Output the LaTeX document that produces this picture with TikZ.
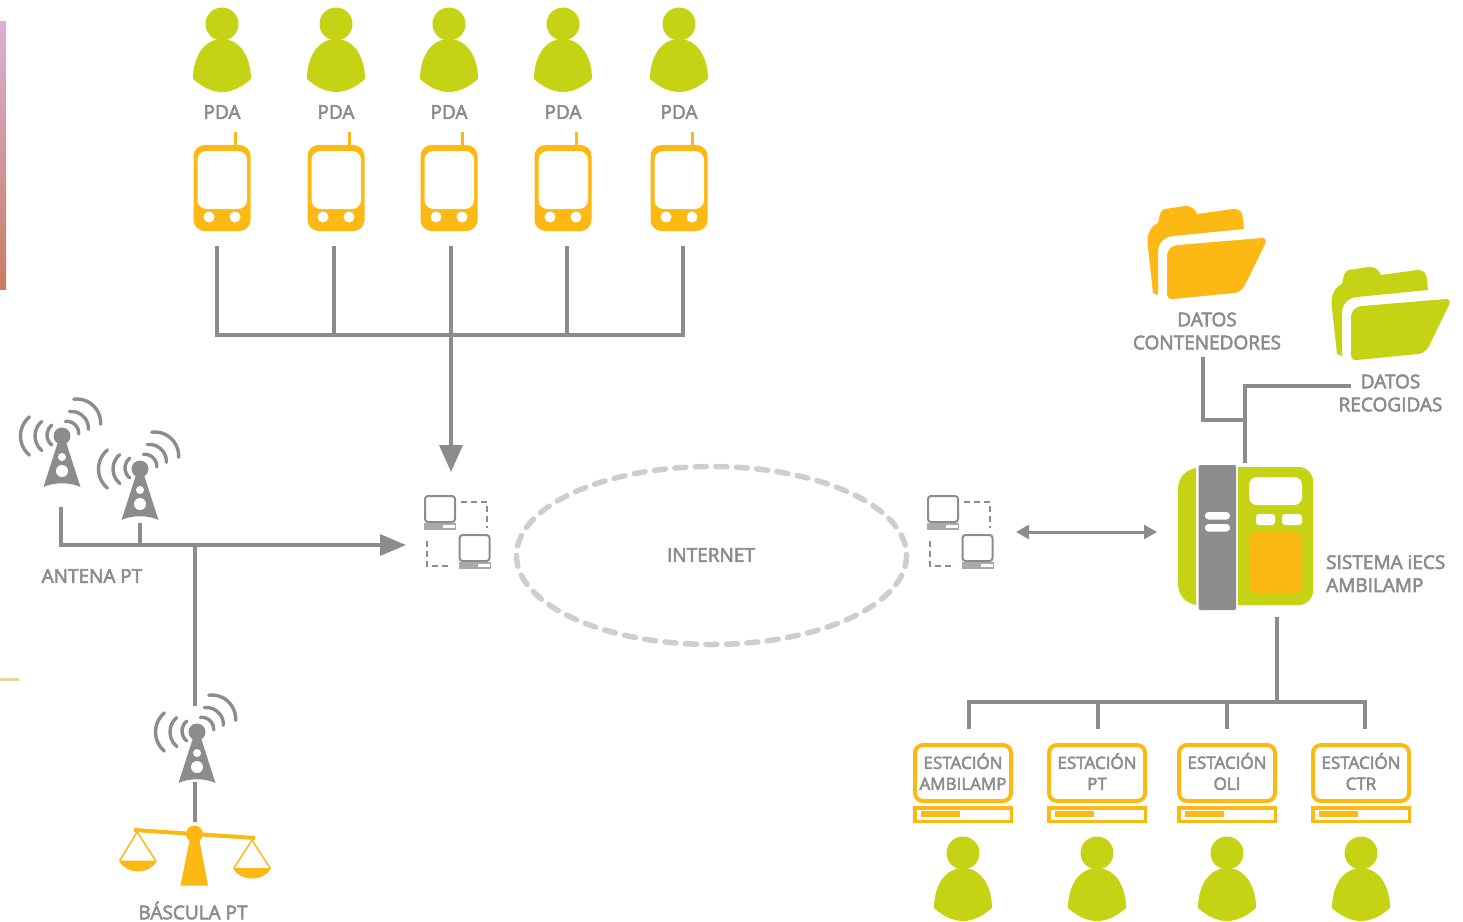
\documentclass[tikz,border=0pt]{standalone}
\usepackage{fontspec}
\setmainfont[FakeBold=3]{Open Sans}
\usetikzlibrary{arrows.meta}
\definecolor{lim}{HTML}{C6D314}
\definecolor{org}{HTML}{FDB913}
\definecolor{gry}{HTML}{8A8C8E}
\definecolor{lgr}{HTML}{CDCECF}
\definecolor{stripa}{HTML}{D8B2D4}
\definecolor{stripb}{HTML}{DC9AA0}
\definecolor{stripc}{HTML}{C97C62}
\definecolor{tana}{HTML}{E6D69C}
\tikzset{
 conn/.style={draw=gry,line width=3.5pt},
 lbl/.style={text=gry,inner sep=0pt,font=\fontsize{19}{23}\selectfont,align=center},
 slbl/.style={text=gry,inner sep=0pt,font=\fontsize{17}{21}\selectfont,align=center},
 wave/.style={draw=gry,line width=3.4pt,line cap=round},
 pics/person/.style={code={
  \fill[lim] (0,0) circle (16.5);
  \fill[lim] (0,15) .. controls (-18,15) and (-29,33) .. (-29,55) .. controls (-20,63) and (-10,68) .. (0,68) .. controls (10,68) and (20,63) .. (29,55) .. controls (29,33) and (18,15) .. (0,15) -- cycle;
 }},
 pics/pda/.style={code={
  \fill[org,rounded corners=11pt] (-28.5,0) rectangle (28.5,86);
  \fill[white,rounded corners=9pt] (-24.5,6) rectangle (25,64);
  \draw[org,line width=3pt] (13,-13) -- (13,1);
  \fill[white] (-13,72) circle (5.5) (13,72) circle (5.5);
 }},
 pics/tower/.style={code={
  \fill[gry] (0,0) circle (8.5);
  \fill[gry] (-4,6) -- (4,6) -- (18.5,51) .. controls (8,46) and (-8,46) .. (-18.5,51) -- cycle;
  \fill[white] (0,21) circle (4) (0,35) circle (6);
  \draw[wave] ([shift={(-2,-1)}]130:13) arc[start angle=130,end angle=230,radius=13];
  \draw[wave] ([shift={(-8,0)}]130:19) arc[start angle=130,end angle=230,radius=19];
  \draw[wave] ([shift={(-16.5,0)}]130:25) arc[start angle=130,end angle=230,radius=25];
  \draw[wave] ([shift={(4.8,-2.7)}]-97:12) arc[start angle=-97,end angle=3,radius=12];
  \draw[wave] ([shift={(9.4,-7.6)}]-97:17) arc[start angle=-97,end angle=3,radius=17];
  \draw[wave] ([shift={(14.7,-13)}]-97:24) arc[start angle=-97,end angle=3,radius=24];
 }},
 pics/station/.style={code={
  \draw[org,line width=4pt,rounded corners=8pt] (2,2) rectangle (98,58);
  \draw[org,line width=3.5pt] (2,65) rectangle (98.5,78.5);
  \fill[org] (8,68) rectangle (47,74);
 }},
 pics/comp/.style={code={
  \draw[gry,line width=2pt,rounded corners=3pt] (1,1) rectangle (31,27);
  \fill[gry!75] (0,28) rectangle (32,35);
  \fill[white] (19,30) rectangle (31,33);
 }},
 pics/comps/.style={code={
  \pic at (0,0) {comp};
  \pic at (34.5,39) {comp};
  \draw[gry,line width=2pt,dash pattern=on 6pt off 4pt] (37,7) -- (63,7) -- (63,33);
  \draw[gry,line width=2pt,dash pattern=on 6pt off 4pt] (3,46) -- (3,71) -- (28,71);
 }},
 pics/folder/.style={code={
  \fill[#1] (23,93) -- (17.5,43) .. controls (17,33) and (22,25) .. (28,23) -- (30,14) .. controls (31,11) and (33,9.5) .. (35,9) -- (55,6) .. controls (61,5.5) and (65,9) .. (67,14) -- (103,9) .. controls (109,8.5) and (113,12) .. (113,19) -- (114,29) -- (43,36) .. controls (33,37) and (28,44) .. (28,52) -- (28,95) -- cycle;
  \fill[#1] (37,58) .. controls (37,50) and (40,46) .. (48,45) -- (132,38) .. controls (135,38) and (136.5,40) .. (135.5,43) -- (115,85) .. controls (112,90) and (109,92.5) .. (104,93) -- (43,99) .. controls (39,99.5) and (37,97) .. (37,93) -- cycle;
 }},
}
\begin{document}
\begin{tikzpicture}[x=1pt,y=-1pt]
\useasboundingbox (0,0) rectangle (1463,921);
% stray image edges
\shade[top color=stripa,middle color=stripb,bottom color=stripc] (0,21) rectangle (6,289);
\fill[tana] (0,678) rectangle (19,680.5);
% people and handhelds, top row
\foreach \n/\x in {a/222,b/336,c/449,d/563,e/679}{
 \pic (per\n) at (\x,24) {person};
 \node[lbl] (lab\n) at (\x,112) {PDA};
 \pic (pda\n) at (\x,145) {pda};
}
% top bus
\coordinate (t1) at (217,246); \coordinate (b1) at (217,335);
\coordinate (t2) at (334,246); \coordinate (b2) at (334,335);
\coordinate (t3) at (451,246); \coordinate (b3) at (451,335);
\coordinate (t4) at (567,246); \coordinate (b4) at (567,335);
\coordinate (t5) at (683,246); \coordinate (b5) at (683,335);
\coordinate (tipdown) at (451,472);
\draw[conn] (t1) -- (b1) -- (b5) -- (t5);
\draw[conn] (t2) -- (b2);
\draw[conn] (t3) -- (b3);
\draw[conn] (t4) -- (b4);
\draw[conn,-{Triangle[length=27pt,width=23pt]}] (b3) -- (tipdown);
% antennas
\pic (tw1) at (62,436) {tower};
\pic (tw2) at (140,469) {tower};
\pic (tw3) at (197,732) {tower};
\node[lbl] (antena) at (92,576) {ANTENA PT};
\coordinate (a1) at (61,507); \coordinate (a1b) at (61,545);
\coordinate (a2) at (140,523); \coordinate (a2b) at (140,545);
\coordinate (a3) at (195,545); \coordinate (a4) at (195,706);
\coordinate (tipright) at (406,545);
\coordinate (a5) at (195,782); \coordinate (a6) at (195,822);
\draw[conn,-{Triangle[length=26pt,width=21pt]}] (a1) -- (a1b) -- (tipright);
\draw[conn] (a2) -- (a2b);
\draw[conn] (a3) -- (a4);
\draw[conn] (a5) -- (a6);
% scale
\draw[org,line width=4pt] (134,830) -- (255,838);
\fill[org] (194.5,834) circle (8.5);
\fill[org] (190,838) -- (199,838) -- (208,885.5) -- (180.5,885.5) -- cycle;
\draw[org,line width=1.5pt] (119.5,861) -- (137,832) -- (156,861);
\fill[org] (119,860.5) .. controls (126,875) and (150,875) .. (157,860.5) -- cycle;
\draw[org,line width=1.5pt] (234,868) -- (252,840) -- (270,868);
\fill[org] (233,868) .. controls (240,882) and (264,882) .. (271,868) -- cycle;
\node[lbl] (bascula) at (193,910.5) {BÁSCULA PT};
% internet
\draw[lgr,line width=5.5pt,line cap=round,dash pattern=on 11pt off 9.5pt] (711.5,555.5) ellipse [x radius=195,y radius=89];
\node[lbl] (internet) at (711,555) {INTERNET};
\pic (cl) at (424,495) {comps};
\pic (cr) at (927,495) {comps};
\coordinate (ar1) at (1016,532); \coordinate (ar2) at (1157,532);
\draw[draw=gry,line width=3pt,{Triangle[length=13pt,width=14pt]}-{Triangle[length=13pt,width=14pt]}] (ar1) -- (ar2);
% folders
\pic (f1) at (1130,200) {folder=org};
\pic (f2) at (1314,261) {folder=lim};
\node[lbl] (dc) at (1207,331) {DATOS\\CONTENEDORES};
\node[lbl] (dr) at (1390.5,393) {DATOS\\RECOGIDAS};
\coordinate (d1) at (1203,357); \coordinate (d2) at (1203,420); \coordinate (d3) at (1245,420);
\coordinate (d4) at (1245,463); \coordinate (d5) at (1245,386); \coordinate (d6) at (1351,386);
\draw[conn] (d1) -- (d2) -- (d3);
\draw[conn] (d4) -- (d5) -- (d6);
% device
\fill[lim] (1196,468) .. controls (1185,470) and (1178,478) .. (1178,490) -- (1178,583) .. controls (1178,595) and (1185,603) .. (1196,605) -- cycle;
\fill[lim,rounded corners=14pt] (1238,467) -- (1313,467) -- (1313,605) -- (1238,605);
\fill[lim] (1238,467) rectangle (1260,605);
\fill[gry,rounded corners=2pt] (1198.5,465) rectangle (1236,610);
\fill[white,rounded corners=3.5pt] (1205,512) rectangle (1230,519.5);
\fill[white,rounded corners=3.5pt] (1205,524) rectangle (1230,531.5);
\fill[white,rounded corners=8pt] (1249,477) rectangle (1302,505);
\fill[white,rounded corners=3pt] (1256,514) rectangle (1275,525);
\fill[white,rounded corners=3pt] (1282,514) rectangle (1302,525);
\fill[org,rounded corners=8pt] (1249,532) rectangle (1302,593);
\node[lbl,align=left,anchor=west] (sis) at (1326,573.5) {SISTEMA iECS\\AMBILAMP};
% stations
\coordinate (s0) at (1277,617); \coordinate (s0b) at (1277,702);
\coordinate (sa) at (969,729); \coordinate (sab) at (969,702);
\coordinate (sb) at (1098,729); \coordinate (sbb) at (1098,702);
\coordinate (sc) at (1227,729); \coordinate (scb) at (1227,702);
\coordinate (sd) at (1365,729); \coordinate (sdb) at (1365,702);
\draw[conn] (s0) -- (s0b);
\draw[conn] (sa) -- (sab) -- (sdb) -- (sd);
\draw[conn] (sb) -- (sbb);
\draw[conn] (sc) -- (scb);
\pic (st1) at (913,743) {station};
\pic (st2) at (1047,743) {station};
\pic (st3) at (1177,743) {station};
\pic (st4) at (1311,743) {station};
\node[slbl] (stl1) at (963,771.5) {ESTACIÓN\\AMBILAMP};
\node[slbl] (stl2) at (1097,771.5) {ESTACIÓN\\PT};
\node[slbl] (stl3) at (1227,771.5) {ESTACIÓN\\OLI};
\node[slbl] (stl4) at (1361,771.5) {ESTACIÓN\\CTR};
\pic (pw) at (963,853) {person};
\pic (px) at (1097,853) {person};
\pic (py) at (1227,853) {person};
\pic (pz) at (1361,853) {person};
\end{tikzpicture}
\end{document}
